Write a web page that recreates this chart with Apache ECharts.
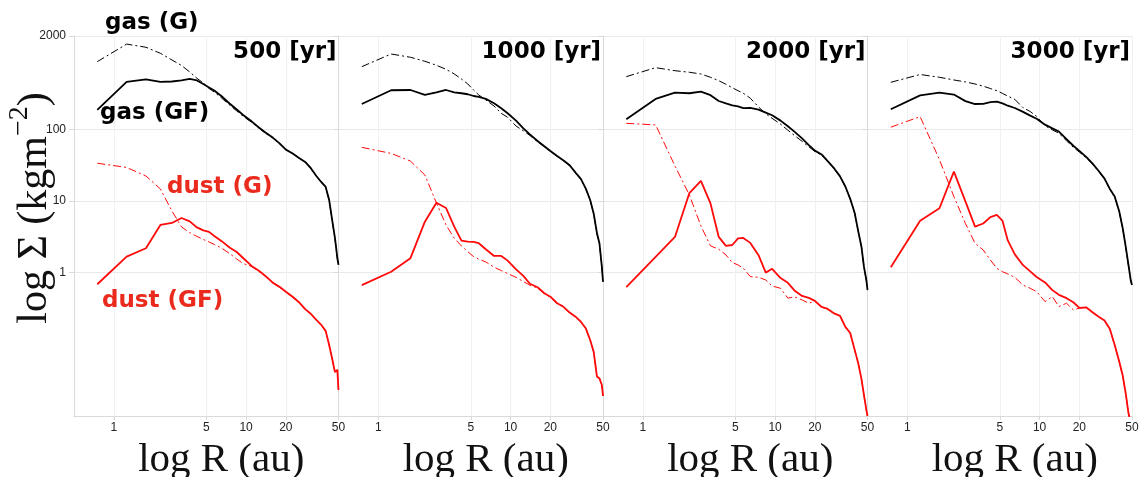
<!DOCTYPE html>
<html>
<head>
<meta charset="utf-8">
<script src="https://cdn.jsdelivr.net/npm/echarts@6/dist/echarts.min.js"></script>
<style>
  html, body { margin: 0; padding: 0; background: #fff; }
  #chart { width: 1142px; height: 477px; }
</style>
</head>
<body>
<div id="chart"></div>
<script>
// ---- data (R in au, Sigma in kg m^-2) ----
const R = [0.75,1.25,1.75,2.25,2.75,3.25,3.75,4.25,4.75,5.25,5.75,6.5,7.5,8.5,9.5,11,12.5,14,16,18,20,22.5,25,28,31,34,37,40,42.5,45,47,49,50];

const panelTitles = ['500 [yr]', '1000 [yr]', '2000 [yr]', '3000 [yr]'];
const xTicks = [1, 5, 10, 20, 50];
const yTicks = [1, 10, 100, 2000];

const gasG_500   = [877,1542,1393,1148,926,776,630,514,443,370,330,275,218,180,152,125,104,88,75,62,52,46,40,34.5,28,22,18.2,15.5,10.2,5.0,3.0,1.58,1.26];
const gasGF_500  = [186,457,498,457,464,480,503,480,428,383,348,291,229,189,158,129,106,90,76,63,52,46,40,35,28.4,22.3,18.4,15.7,10.3,5.1,3.05,1.6,1.28];
const dustG_500  = [33.6,29.3,22.3,14.7,7.26,4.34,3.61,3.2,2.9,2.68,2.47,2.21,1.85,1.55,1.34,1.22,1.04,0.88,0.71,0.62,0.53,0.455,0.385,0.305,0.26,0.216,0.185,0.152,0.097,0.06,0.041,0.044,0.023];
const dustGF_500 = [0.689,1.67,2.19,4.63,4.93,5.79,5.18,4.27,3.88,3.70,3.25,2.77,2.24,1.94,1.6,1.24,1.06,0.9,0.72,0.63,0.54,0.46,0.39,0.31,0.265,0.219,0.187,0.154,0.098,0.0605,0.041,0.044,0.023];

const gasG_1000   = [747,1122,1010,888,781,687,591,503,428,353,301,256,211,167,147,111,95,82,67,57,49,42,36.5,31,24.5,20,14.8,10.2,6.6,3.5,2.55,1.2,0.74];
const gasGF_1000  = [225,350,353,301,328,353,328,318,308,291,282,265,231,196,167,132,103,85,68.7,58,49.8,42.4,37,31.5,24.8,20.3,15,10.3,6.7,3.55,2.57,1.21,0.75];
const dustG_1000  = [56,46,36,23,9.4,4.63,3.02,2.36,1.96,1.67,1.54,1.41,1.19,1.07,0.97,0.86,0.75,0.67,0.61,0.51,0.455,0.37,0.33,0.275,0.24,0.205,0.166,0.114,0.078,0.035,0.033,0.027,0.019];
const dustGF_1000 = [0.67,1.03,1.59,5.14,9.46,7.98,4.38,2.79,2.71,2.68,2.57,2.12,1.71,1.71,1.47,1.11,0.9,0.70,0.625,0.516,0.462,0.374,0.336,0.277,0.243,0.207,0.168,0.115,0.079,0.0355,0.0337,0.0271,0.019];

const gasG_2000   = [542,723,656,624,590,531,476,424,380,345,318,271,205,165,142,118,97,82,68,57,49,43.5,35.5,28,21.8,15.8,10.6,6.75,3.8,2.3,1.2,0.78,0.57];
const gasGF_2000  = [138,265,324,318,334,299,248,229,215,208,197,199,188,171,157,132,110,92.7,74.7,60,50.3,44.5,36,28.4,22,15.9,10.7,6.8,3.82,2.3,1.21,0.79,0.575];
const dustG_2000  = [121,115,30.8,12.1,4.48,2.36,2.12,1.77,1.38,1.28,1.15,0.88,0.86,0.79,0.65,0.605,0.44,0.46,0.416,0.374,0.4,0.33,0.31,0.268,0.247,0.174,0.143,0.083,0.055,0.033,0.0196,0.012,0.01];
const dustGF_2000 = [0.626,1.66,3.15,12.9,19,9.23,3.15,2.36,2.43,3.0,3.05,2.6,1.75,1.0,1.13,0.84,0.72,0.565,0.473,0.444,0.403,0.332,0.312,0.27,0.249,0.175,0.144,0.0836,0.055,0.033,0.0197,0.0122,0.01];

const gasG_3000   = [452,581,531,487,458,428,399,370,345,316,290,261,200,177,151,112,98,88,69,56,48,40,33,25.8,20.2,14.5,11.3,7.1,4.15,2.15,1.26,0.76,0.66];
const gasGF_3000  = [190,297,324,305,247,225,226,239,243,230,213,198,175,155,140,116,103,93,72.8,58.9,50,41.1,33.7,26.2,20.5,14.7,11.5,7.2,4.2,2.2,1.28,0.77,0.67];
const dustG_3000  = [107,150,37.7,11.5,4.85,2.57,2.07,1.5,1.15,1.03,0.96,0.86,0.67,0.605,0.543,0.394,0.463,0.336,0.374,0.302,0.32,0.325,0.28,0.24,0.212,0.162,0.097,0.057,0.036,0.0195,0.011,0.008,0.006];
const dustGF_3000 = [1.19,5.31,7.91,25.6,9.87,4.38,4.85,5.96,6.4,5.26,2.81,1.8,1.27,1.04,0.87,0.73,0.57,0.49,0.44,0.386,0.322,0.328,0.283,0.243,0.215,0.164,0.098,0.058,0.037,0.0197,0.011,0.008,0.006];

const panels = [
  { gasG: gasG_500,  gasGF: gasGF_500,  dustG: dustG_500,  dustGF: dustGF_500 },
  { gasG: gasG_1000, gasGF: gasGF_1000, dustG: dustG_1000, dustGF: dustGF_1000 },
  { gasG: gasG_2000, gasGF: gasGF_2000, dustG: dustG_2000, dustGF: dustGF_2000 },
  { gasG: gasG_3000, gasGF: gasGF_3000, dustG: dustG_3000, dustGF: dustGF_3000 }
];

// ---- layout ----
const PLOT_LEFT = 74, PLOT_W = 264.5, PLOT_TOP = 36, PLOT_H = 380;
const BLACK = '#000000', RED = '#ff0a0a', RED_TEXT = '#ea2a1d';
const DASHDOT = [8, 3, 2, 3];
const BOLD_FONT = 'bold 23px "DejaVu Sans"';

const grids = [], xAxes = [], yAxes = [], series = [], titleTexts = [];
panels.forEach((p, i) => {
  grids.push({ left: PLOT_LEFT + i * PLOT_W, top: PLOT_TOP, width: PLOT_W, height: PLOT_H,
               containLabel: false, outerBoundsMode: 'none' });
  xAxes.push({
    type: 'log', logBase: 10, gridIndex: i, min: 0.5, max: 50,
    axisLine: { show: true, lineStyle: { color: '#dadada', width: 1 } },
    axisTick: { show: true, customValues: xTicks, length: 4, lineStyle: { color: '#dadada' } },
    axisLabel: { customValues: xTicks, color: '#222', fontSize: 12, fontFamily: 'Liberation Sans', margin: 6,
                 formatter: v => String(Math.round(v)) },
    splitLine: { show: true, lineStyle: { color: '#f1f1f1', width: 1 } },
    name: 'log R (au)', nameLocation: 'middle', nameGap: 24, nameMoveOverlap: false,
    nameTextStyle: { fontFamily: 'Liberation Serif', fontSize: 41, color: '#111', padding: [0, 0, 0, 30] }
  });
  yAxes.push({
    type: 'log', logBase: 10, gridIndex: i, min: 0.01, max: 2000,
    axisLine: { show: true, lineStyle: { color: '#dadada', width: 1 } },
    axisTick: { show: true, customValues: yTicks, length: 5, lineStyle: { color: '#dadada' } },
    axisLabel: { show: i === 0, customValues: yTicks, color: '#222', fontSize: 12, fontFamily: 'Liberation Sans', margin: 8,
                 formatter: v => String(Math.round(v)) },
    splitLine: { show: true, lineStyle: { color: '#e9e9e9', width: 1 } },
    name: i === 0 ? '{a|log Σ (kgm}{b|−2}{a|)}' : '',
    nameLocation: 'middle', nameGap: 18, nameMoveOverlap: false,
    nameTextStyle: {
      padding: [0, 0, 0, 36],
      rich: {
        a: { fontFamily: 'Liberation Serif', fontSize: 42, color: '#111', lineHeight: 50, verticalAlign: 'bottom' },
        b: { fontFamily: 'Liberation Serif', fontSize: 28, color: '#111', lineHeight: 50, verticalAlign: 'top' }
      }
    }
  });
  const mk = (arr) => R.map((r, k) => [r, arr[k]]);
  series.push(
    { name: 'gas (G)', type: 'line', xAxisIndex: i, yAxisIndex: i, data: mk(p.gasG), showSymbol: false, silent: true,
      lineStyle: { color: BLACK, width: 1, type: DASHDOT }, z: 3 },
    { name: 'gas (GF)', type: 'line', xAxisIndex: i, yAxisIndex: i, data: mk(p.gasGF), showSymbol: false, silent: true,
      lineStyle: { color: BLACK, width: 1.8 }, z: 2 },
    { name: 'dust (G)', type: 'line', xAxisIndex: i, yAxisIndex: i, data: mk(p.dustG), showSymbol: false, silent: true,
      lineStyle: { color: RED, width: 1, type: DASHDOT }, z: 3 },
    { name: 'dust (GF)', type: 'line', xAxisIndex: i, yAxisIndex: i, data: mk(p.dustGF), showSymbol: false, silent: true,
      lineStyle: { color: RED, width: 1.8 }, z: 2 }
  );
  titleTexts.push({
    type: 'text', x: PLOT_LEFT + (i + 1) * PLOT_W - 2, y: 52, z: 10,
    style: { text: panelTitles[i], font: BOLD_FONT, fill: '#000', align: 'right', verticalAlign: 'middle' }
  });
});

const option = {
  animation: false,
  backgroundColor: '#ffffff',
  grid: grids,
  xAxis: xAxes,
  yAxis: yAxes,
  series: series,
  graphic: titleTexts.concat([
    { type: 'text', x: 105, y: 23,  z: 10, style: { text: 'gas (G)',   font: BOLD_FONT, fill: '#000',   verticalAlign: 'middle' } },
    { type: 'text', x: 100, y: 113, z: 10, style: { text: 'gas (GF)',  font: BOLD_FONT, fill: '#000',   verticalAlign: 'middle' } },
    { type: 'text', x: 167, y: 187, z: 10, style: { text: 'dust (G)',  font: BOLD_FONT, fill: RED_TEXT, verticalAlign: 'middle' } },
    { type: 'text', x: 102, y: 301, z: 10, style: { text: 'dust (GF)', font: BOLD_FONT, fill: RED_TEXT, verticalAlign: 'middle' } }
  ])
};

const chart = echarts.init(document.getElementById('chart'), null, { renderer: 'canvas' });
chart.setOption(option);
</script>
</body>
</html>
